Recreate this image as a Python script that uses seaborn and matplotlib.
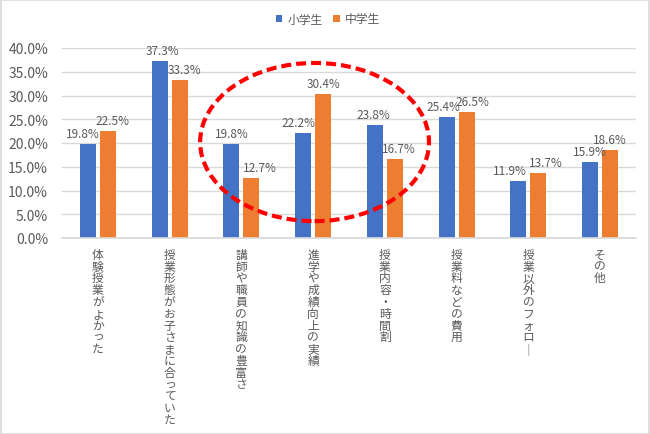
import matplotlib
matplotlib.use("Agg")
import matplotlib.pyplot as plt
from matplotlib.patches import Ellipse, Rectangle
import seaborn as sns
import pandas as pd

categories = ["体験授業がよかった", "授業形態がお子さまに合っていた", "講師や職員の知識の豊富さ",
              "進学や成績向上の実績", "授業内容・時間割", "授業料などの費用",
              "授業以外のフォロー", "その他"]
series_names = ["小学生", "中学生"]
elementary = [19.8, 37.3, 19.8, 22.2, 23.8, 25.4, 11.9, 15.9]
junior_high = [22.5, 33.3, 12.7, 30.4, 16.7, 26.5, 13.7, 18.6]
yticks = [0, 5, 10, 15, 20, 25, 30, 35, 40]

# horizontal nudges (pixels) of the value labels, as placed in the original
label_dx = [[-5, 3, 0, -5, -1, -3, -8, 0],
            [5, 5, 8, 0, 4, 6, 7, 0]]

sns.set_theme(style="white")
plt.rcParams['font.family'] = ['Noto Sans CJK JP', 'DejaVu Sans']

df = pd.DataFrame({
    "cat": categories * 2,
    "grp": [series_names[0]] * len(categories) + [series_names[1]] * len(categories),
    "val": elementary + junior_high,
})

blue = "#4472C4"
orange = "#ED7D31"
gray = "#595959"

fig = plt.figure(figsize=(6.5, 4.35), dpi=100)
fig.patch.set_facecolor("white")
ax = fig.add_axes([62/650, (435-239)/435, 574/650, 190/435])

sns.barplot(data=df, x="cat", y="val", hue="grp", palette=[blue, orange],
            saturation=1, width=0.56, gap=0.2, linewidth=0, ax=ax, legend=True)

ax.set_xlim(-0.5, len(categories) - 0.5)
ax.set_ylim(0, 40)
ax.set_yticks(yticks)
ax.set_yticklabels([f"{v:.1f}%" for v in yticks], color=gray, fontsize=10)
ax.yaxis.grid(True, color="#D9D9D9", linewidth=1)
ax.set_axisbelow(True)
for s in ["top", "right", "left"]:
    ax.spines[s].set_visible(False)
ax.spines["bottom"].set_color("#D9D9D9")
ax.set_xlabel("")
ax.set_ylabel("")
ax.tick_params(axis="both", length=0)
ax.tick_params(axis="y", pad=10)

vert = ["\n".join(c.replace("ー", "｜")) for c in categories]
ax.set_xticks(range(len(categories)))
ax.set_xticklabels(vert, color=gray, fontsize=8.5, linespacing=0.88, va="top")
ax.tick_params(axis="x", pad=7)

for ci, cont in enumerate(ax.containers):
    for bi, bar in enumerate(cont):
        h = bar.get_height()
        ax.annotate(f"{h:.1f}%", (bar.get_x() + bar.get_width() / 2, h),
                    xytext=(label_dx[ci][bi], 4), textcoords="offset pixels",
                    ha="center", va="bottom", color=gray, fontsize=8.5)

leg = ax.legend(loc="center", ncol=2, frameon=False, fontsize=8.5,
                handlelength=0.55, handleheight=0.55,
                handletextpad=0.45, columnspacing=0.9, labelcolor=gray)
leg.set_bbox_to_anchor((328/650, 1 - 20/435), transform=fig.transFigure)

ell = Ellipse((3.02, 20.2), width=3.19, height=33.3, fill=False, edgecolor="#FF0000",
              linewidth=3, linestyle=(0, (2.4, 1.2)), clip_on=False, zorder=5)
ax.add_patch(ell)

fig.add_artist(Rectangle((0.001, 0.001), 0.997, 0.997, transform=fig.transFigure,
                         fill=False, edgecolor="#D9D9D9", linewidth=1.2))

fig.savefig("out.png", dpi=100)
